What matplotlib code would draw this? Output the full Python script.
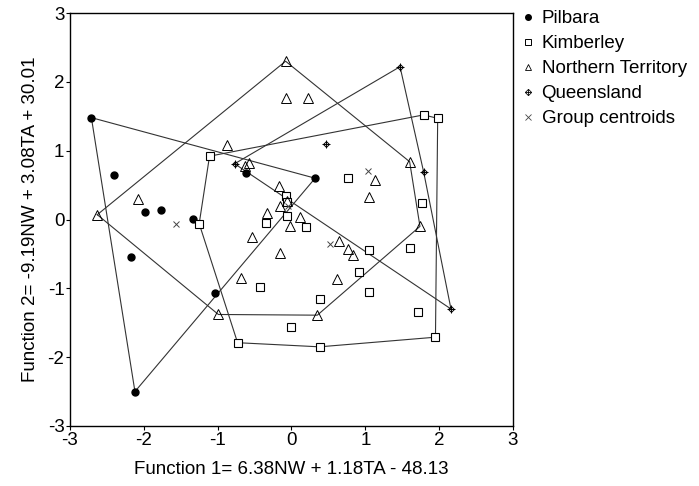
import matplotlib

matplotlib.use("Agg")
import matplotlib.pyplot as plt
from matplotlib.legend_handler import HandlerTuple
from matplotlib.lines import Line2D


plt.rcParams["font.family"] = ["Liberation Sans", "DejaVu Sans"]

# discriminant scores
PIL_X = [-2.71, -2.40, -1.98, -1.77, -1.33, -2.17, -1.04, -2.12, -0.62, 0.32]
PIL_Y = [1.48, 0.64, 0.11, 0.14, 0.01, -0.54, -1.07, -2.50, 0.67, 0.60]

KIM_X = [-1.11, -1.25, -0.73, -0.08, -0.06, -0.06, -0.34, 0.19, -0.42, 0.38, -0.01,
         0.38, 0.77, 1.79, 1.98, 1.77, 1.05, 1.60, 0.92, 1.05, 1.72, 1.95]
KIM_Y = [0.92, -0.06, -1.79, 0.34, 0.26, 0.05, -0.05, -0.11, -0.98, -1.16, -1.56,
         -1.85, 0.60, 1.52, 1.47, 0.24, -0.45, -0.41, -0.77, -1.05, -1.35, -1.71]

NT_X = [-0.87, -0.63, -0.58, -2.08, -2.63, -0.53, -0.69, -0.99, -0.08, -0.08, 0.22,
        -0.17, -0.16, -0.33, 0.11, -0.02, -0.06, -0.16, 0.62, 0.35, 0.65, 0.76, 0.83,
        1.74, 1.60, 1.13, 1.05]
NT_Y = [1.08, 0.78, 0.82, 0.30, 0.07, -0.26, -0.85, -1.38, 2.30, 1.76, 1.77,
        0.49, 0.19, 0.09, 0.03, -0.09, 0.27, -0.49, -0.87, -1.39, -0.31, -0.43, -0.52,
        -0.10, 0.84, 0.57, 0.33]

QLD_X = [-0.77, 0.47, 1.47, 1.79, 2.16]
QLD_Y = [0.81, 1.09, 2.22, 0.69, -1.30]

CEN_X = [-1.57, -0.05, 0.52, 1.03]
CEN_Y = [-0.07, 0.20, -0.36, 0.71]

TICKS = [-3, -2, -1, 0, 1, 2, 3]

LINE_COLOR = "#333333"


def hull(xs, ys):
    pts = sorted(set(zip(xs, ys)))

    def cross(o, a, b):
        return (a[0] - o[0]) * (b[1] - o[1]) - (a[1] - o[1]) * (b[0] - o[0])

    lower, upper = [], []
    for p in pts:
        while len(lower) >= 2 and cross(lower[-2], lower[-1], p) <= 0:
            lower.pop()
        lower.append(p)
    for p in reversed(pts):
        while len(upper) >= 2 and cross(upper[-2], upper[-1], p) <= 0:
            upper.pop()
        upper.append(p)
    ring = lower[:-1] + upper[:-1]
    ring.append(ring[0])
    return [p[0] for p in ring], [p[1] for p in ring]


fig = plt.figure(figsize=(6.99, 4.86), dpi=100)
ax = fig.add_axes([0.1001, 0.1235, 0.6338, 0.8497])

for xs, ys in [(PIL_X, PIL_Y), (KIM_X, KIM_Y), (NT_X, NT_Y), (QLD_X, QLD_Y)]:
    hx, hy = hull(xs, ys)
    ax.plot(hx, hy, color=LINE_COLOR, linewidth=0.8, zorder=1)

ax.plot(PIL_X, PIL_Y, "o", color="black", markersize=5, linestyle="none", zorder=3)
ax.plot(KIM_X, KIM_Y, "s", markerfacecolor="white", markeredgecolor="black",
        markersize=5.5, markeredgewidth=0.8, linestyle="none", zorder=3)
ax.plot(NT_X, NT_Y, "^", markerfacecolor="none", markeredgecolor="black",
        markersize=6.5, markeredgewidth=0.7, linestyle="none", zorder=3)
ax.plot(QLD_X, QLD_Y, "D", markerfacecolor="none", markeredgecolor="black",
        markersize=3, markeredgewidth=0.7, linestyle="none", zorder=3)
ax.plot(QLD_X, QLD_Y, "+", color="black", markersize=6, markeredgewidth=0.7,
        linestyle="none", zorder=3)
ax.plot(CEN_X, CEN_Y, "x", color="#444444", markersize=5, markeredgewidth=0.7,
        linestyle="none", zorder=3)

ax.set_xlim(-3, 3)
ax.set_ylim(-3, 3)
ax.set_xticks(TICKS, [str(t) for t in TICKS])
ax.set_yticks(TICKS, [str(t) for t in TICKS])
ax.tick_params(labelsize=13.5, direction="out", length=3, width=0.8, pad=1)
for sp in ax.spines.values():
    sp.set_linewidth(1.0)

ax.set_xlabel("Function 1= 6.38NW + 1.18TA - 48.13", fontsize=13.5)
ax.set_ylabel("Function 2= -9.19NW + 3.08TA + 30.01", fontsize=13.5, labelpad=6)
ax.xaxis.set_label_coords(0.5, -0.085)

handles = [
    Line2D([], [], marker="o", color="black", markersize=4, linestyle="none"),
    Line2D([], [], marker="s", markerfacecolor="white", markeredgecolor="black",
           markersize=4.2, markeredgewidth=0.7, linestyle="none"),
    Line2D([], [], marker="^", markerfacecolor="none", markeredgecolor="black",
           markersize=4.8, markeredgewidth=0.6, linestyle="none"),
    (Line2D([], [], marker="D", markerfacecolor="none", markeredgecolor="black",
            markersize=3.2, markeredgewidth=0.6, linestyle="none"),
     Line2D([], [], marker="+", color="black", markersize=5, markeredgewidth=0.6,
            linestyle="none")),
    Line2D([], [], marker="x", color="#444444", markersize=3.8, markeredgewidth=0.6,
           linestyle="none"),
]
labels = ["Pilbara", "Kimberley", "Northern Territory", "Queensland", "Group centroids"]
ax.legend(handles, labels, loc="upper left", bbox_to_anchor=(1.003, 1.025),
          borderaxespad=0, frameon=False, fontsize=13.5, handlelength=0.7,
          handletextpad=0.35, labelspacing=0.42,
          handler_map={tuple: HandlerTuple(ndivide=1, pad=0)})

fig.savefig("out.png", dpi=100)
